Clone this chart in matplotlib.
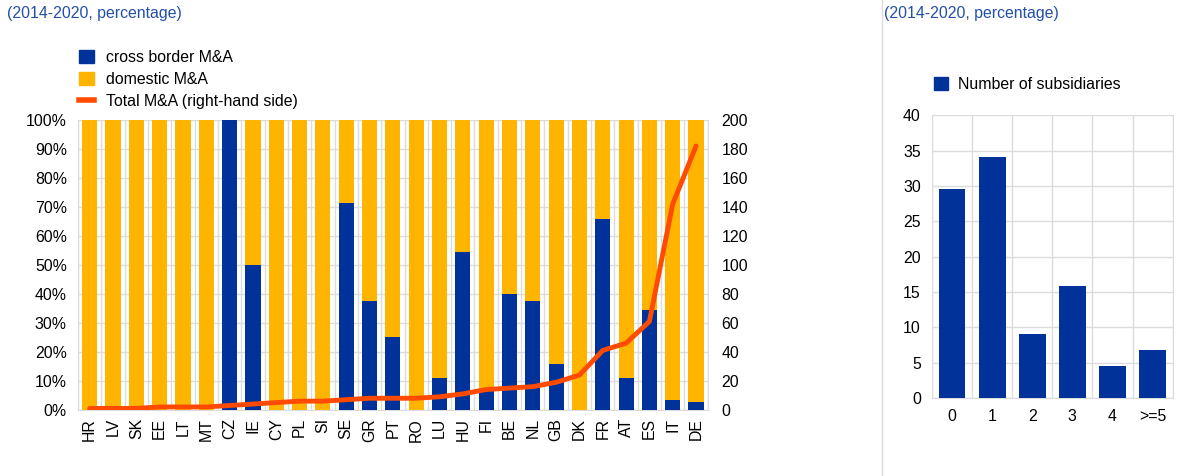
import numpy as np
import matplotlib.pyplot as plt
from matplotlib.patches import Rectangle
from matplotlib.lines import Line2D

plt.rcParams['font.family'] = ['Liberation Sans', 'DejaVu Sans']
plt.rcParams['font.size'] = 11.4

countries = ["HR", "LV", "SK", "EE", "LT", "MT", "CZ", "IE", "CY", "PL", "SI", "SE", "GR", "PT",
             "RO", "LU", "HU", "FI", "BE", "NL", "GB", "DK", "FR", "AT", "ES", "IT", "DE"]
cross_border = [0, 0, 0, 0, 0, 0, 100, 50, 0, 0, 0, 71.4, 37.5, 25, 0, 11.1, 54.5, 7.1,
                40, 37.5, 15.8, 0, 65.9, 10.9, 34.4, 3.5, 2.7]
total_ma = [1, 1, 1, 2, 2, 2, 3, 4, 5, 6, 6, 7, 8, 8, 8, 9, 11, 14, 15, 16, 19, 24, 41, 46, 61, 142, 182]

subs_labels = ["0", "1", "2", "3", "4", ">=5"]
subs_values = [29.5, 34.1, 9.1, 15.9, 4.5, 6.8]

blue = "#003299"
yellow = "#ffb400"
orange = "#ff4b00"
title_col = "#2350a8"
grid_col = "#dcdcdc"
fs = 11.4

fig = plt.figure(figsize=(12.04, 4.76), dpi=100)

# left panel
ax = fig.add_axes([0.0648, 0.139, 0.523, 0.609])
x = np.arange(len(countries))
cb = np.array(cross_border)
dom = 100 - cb
ax.bar(x, cb, width=0.65, color=blue, zorder=3)
ax.bar(x, dom, bottom=cb, width=0.65, color=yellow, zorder=3)
ax.set_xlim(-0.5, len(countries) - 0.5)
ax.set_ylim(0, 100)
ax.set_yticks(np.arange(0, 101, 10))
ax.set_yticklabels([f"{v}%" for v in range(0, 101, 10)])
ax.set_xticks(x)
ax.set_xticklabels(countries, rotation=90)
ax.set_xticks(np.arange(-0.5, len(countries), 1), minor=True)
ax.grid(axis='y', color=grid_col, lw=1, zorder=0)
ax.grid(axis='x', which='minor', color=grid_col, lw=1, zorder=0)
ax.tick_params(axis='both', which='both', length=0, labelsize=fs)
ax.tick_params(axis='x', pad=6)
ax.tick_params(axis='y', pad=8)
for s in ax.spines.values():
    s.set_color(grid_col)

ax2 = ax.twinx()
ax2.plot(x, total_ma, color=orange, lw=3.5, solid_capstyle='round', zorder=5)
ax2.set_ylim(0, 200)
ax2.set_yticks(np.arange(0, 201, 20))
ax2.tick_params(axis='y', length=0, labelsize=fs, pad=10)
for s in ax2.spines.values():
    s.set_visible(False)

# left legend
handles = [Rectangle((0, 0), 1, 1, color=blue), Rectangle((0, 0), 1, 1, color=yellow),
           Line2D([0], [0], color=orange, lw=4)]
fig.legend(handles, ["cross border M&A", "domestic M&A", "Total M&A (right-hand side)"],
           loc='upper left', bbox_to_anchor=(0.054, 0.925), frameon=False,
           handlelength=0.9, handleheight=0.9, handletextpad=0.8, labelspacing=0.45,
           fontsize=fs)

# right panel
bx = fig.add_axes([0.774, 0.164, 0.2, 0.594])
xs = np.arange(len(subs_labels))
bx.bar(xs, subs_values, width=0.67, color=blue, zorder=3)
bx.set_xlim(-0.5, len(subs_labels) - 0.5)
bx.set_ylim(0, 40)
bx.set_yticks(np.arange(0, 41, 5))
bx.set_xticks(xs)
bx.set_xticklabels(subs_labels)
bx.set_xticks(np.arange(-0.5, len(subs_labels), 1), minor=True)
bx.grid(axis='y', color=grid_col, lw=1, zorder=0)
bx.grid(axis='x', which='minor', color=grid_col, lw=1, zorder=0)
bx.tick_params(axis='both', which='both', length=0, labelsize=fs)
bx.tick_params(axis='x', pad=8)
bx.tick_params(axis='y', pad=8)
for s in bx.spines.values():
    s.set_color(grid_col)

fig.legend([Rectangle((0, 0), 1, 1, color=blue)], ["Number of subsidiaries"],
           loc='upper left', bbox_to_anchor=(0.764, 0.868), frameon=False,
           handlelength=0.9, handleheight=0.9, handletextpad=0.6, fontsize=fs)

# titles and separator
fig.text(0.006, 0.972, "(2014-2020, percentage)", color=title_col, fontsize=fs, va='center')
fig.text(0.734, 0.972, "(2014-2020, percentage)", color=title_col, fontsize=fs, va='center')
fig.add_artist(Line2D([0.7326, 0.7326], [0, 1], color=grid_col, lw=1))

fig.savefig("out.png", dpi=100)
